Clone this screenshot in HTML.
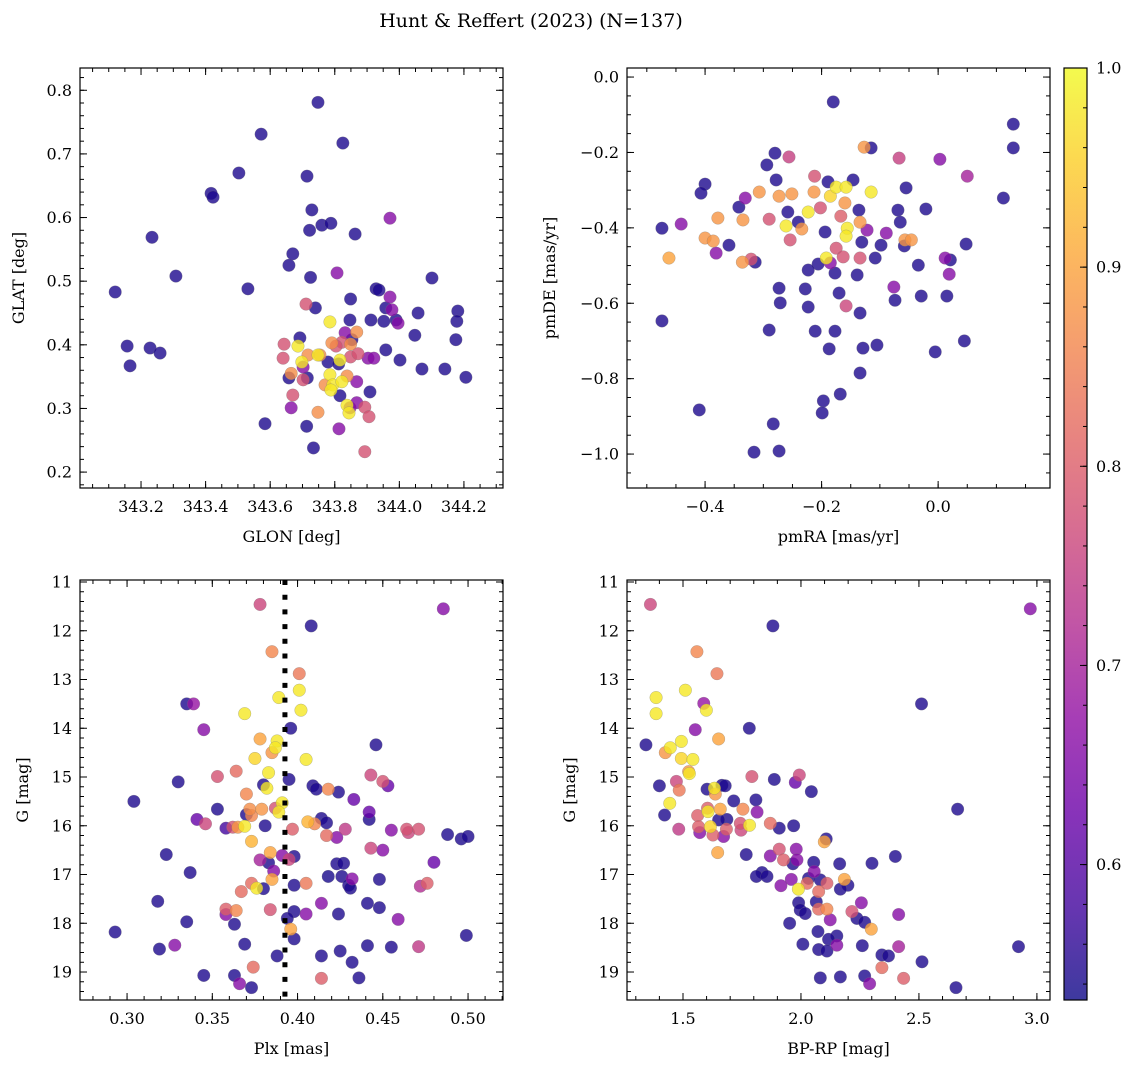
<!DOCTYPE html>
<html><head><meta charset="utf-8">
<style>
html,body{margin:0;padding:0;background:#fff;}
svg{display:block;font-family:"DejaVu Serif","Liberation Serif",serif;}
svg text{font-family:"DejaVu Serif","Liberation Serif",serif;}
</style></head>
<body>
<svg id="fig" width="1136" height="1067" viewBox="0 0 1136 1067" xmlns="http://www.w3.org/2000/svg">
<defs>
<linearGradient id="plasmaGrad" x1="0" y1="1" x2="0" y2="0"></linearGradient>
</defs>
<text x="531" y="27" font-size="19" text-anchor="middle">Hunt &amp; Reffert (2023) (N=137)</text>
</svg>
<script>
// ---- data ----
const tlGlon=[343.12,343.157,343.166,343.228,343.259,343.234,343.308,343.417,343.423,343.503,343.531,343.572,343.584,343.714,343.748,343.825,343.729,343.76,343.788,343.722,343.67,343.658,343.725,343.74,343.863,343.971,343.971,343.928,343.937,343.849,343.958,344.058,344.101,344.181,344.178,344.175,344.206,344.141,344.07,344.002,344.048,343.99,343.952,343.912,343.847,343.853,343.909,343.958,343.692,343.658,343.715,343.713,343.734,343.816,343.779,343.812,
343.807,343.702,343.665,343.813,343.847,343.868,343.832,343.903,343.921,343.996,343.977,343.868,
343.893,343.893,343.906,343.711,343.64,343.643,343.67,343.702,343.822,343.849,343.804,343.872,
343.665,343.754,343.77,343.748,343.791,343.868,343.838,343.717,343.849,
343.785,343.686,343.748,343.698,343.785,343.794,343.822,343.838,343.844,343.788,343.816];
const tlGlat=[0.483,0.398,0.367,0.395,0.387,0.569,0.508,0.638,0.632,0.670,0.488,0.731,0.276,0.665,0.781,0.717,0.612,0.588,0.591,0.580,0.543,0.525,0.506,0.458,0.574,0.599,0.475,0.488,0.486,0.472,0.458,0.450,0.505,0.453,0.437,0.408,0.349,0.362,0.362,0.376,0.415,0.439,0.437,0.439,0.439,0.408,0.326,0.392,0.411,0.348,0.348,0.272,0.238,0.320,0.373,0.370,
0.513,0.365,0.301,0.268,0.301,0.309,0.419,0.379,0.379,0.434,0.455,0.342,
0.302,0.232,0.287,0.464,0.379,0.401,0.321,0.345,0.404,0.381,0.398,0.386,
0.355,0.384,0.337,0.294,0.403,0.420,0.351,0.384,0.401,
0.436,0.398,0.384,0.373,0.353,0.337,0.342,0.305,0.293,0.329,0.376];
const tlProb=[0.545,0.545,0.545,0.545,0.545,0.545,0.545,0.545,0.545,0.545,0.545,0.545,0.545,0.545,0.545,0.545,0.545,0.545,0.545,0.545,0.545,0.545,0.545,0.545,0.545,0.66,0.66,0.545,0.545,0.545,0.545,0.545,0.545,0.545,0.545,0.545,0.545,0.545,0.545,0.545,0.545,0.545,0.545,0.545,0.545,0.545,0.545,0.545,0.545,0.545,0.545,0.545,0.545,0.545,0.545,0.545,
0.66,0.66,0.66,0.66,0.66,0.66,0.66,0.66,0.66,0.66,0.66,0.66,
0.78,0.78,0.78,0.78,0.78,0.78,0.78,0.78,0.78,0.78,0.78,0.78,
0.87,0.87,0.87,0.87,0.87,0.87,0.87,0.87,0.87,
0.98,0.98,0.98,0.98,0.98,0.98,0.98,0.98,0.98,0.98,0.98];

const trPmra=[-0.180,0.129,0.129,0.112,0.050,0.003,-0.067,-0.127,-0.115,-0.256,-0.280,-0.294,-0.278,-0.146,-0.055,-0.40,-0.407,-0.441,-0.474,-0.474,-0.462,-0.4,-0.386,-0.378,-0.381,-0.359,-0.336,-0.321,-0.314,-0.335,-0.342,-0.331,-0.307,-0.290,-0.273,-0.251,-0.258,-0.240,-0.261,-0.254,-0.234,-0.223,-0.202,-0.213,-0.212,-0.189,-0.175,-0.158,-0.185,-0.160,-0.167,-0.156,-0.158,-0.175,-0.194,-0.192,-0.185,-0.206,-0.163,-0.134,-0.134,-0.136,-0.131,-0.122,-0.108,-0.115,-0.098,-0.089,-0.069,-0.065,-0.057,-0.046,-0.058,-0.021,-0.034,0.012,0.021,0.019,0.048,-0.076,-0.074,-0.029,0.015,0.045,-0.005,-0.105,-0.129,-0.134,-0.158,-0.170,-0.177,-0.139,-0.187,-0.177,-0.211,-0.228,-0.223,-0.271,-0.273,-0.290,-0.283,-0.273,-0.316,-0.41,-0.197,-0.199,-0.168,-0.134,-0.223];
const trPmde=[-0.066,-0.125,-0.188,-0.321,-0.263,-0.218,-0.215,-0.186,-0.188,-0.212,-0.202,-0.233,-0.273,-0.273,-0.294,-0.284,-0.308,-0.390,-0.401,-0.647,-0.480,-0.427,-0.435,-0.374,-0.467,-0.446,-0.491,-0.483,-0.491,-0.379,-0.345,-0.321,-0.305,-0.377,-0.316,-0.310,-0.358,-0.385,-0.395,-0.432,-0.403,-0.358,-0.347,-0.305,-0.263,-0.278,-0.292,-0.292,-0.316,-0.334,-0.369,-0.401,-0.422,-0.454,-0.411,-0.480,-0.493,-0.496,-0.477,-0.480,-0.385,-0.353,-0.438,-0.406,-0.480,-0.305,-0.446,-0.414,-0.353,-0.385,-0.432,-0.432,-0.448,-0.350,-0.499,-0.480,-0.485,-0.523,-0.443,-0.557,-0.592,-0.581,-0.581,-0.700,-0.729,-0.711,-0.719,-0.626,-0.607,-0.573,-0.520,-0.525,-0.721,-0.674,-0.674,-0.562,-0.610,-0.599,-0.560,-0.671,-0.920,-0.992,-0.995,-0.883,-0.859,-0.891,-0.841,-0.785,-0.512];
const trProb=[0.545,0.545,0.545,0.545,0.70,0.66,0.75,0.88,0.545,0.75,0.545,0.545,0.545,0.545,0.545,0.545,0.545,0.66,0.545,0.545,0.90,0.88,0.88,0.88,0.66,0.545,0.88,0.78,0.545,0.88,0.545,0.66,0.88,0.78,0.88,0.88,0.545,0.545,0.98,0.78,0.88,0.98,0.78,0.88,0.78,0.545,0.98,0.98,0.96,0.88,0.80,0.98,0.98,0.78,0.545,0.98,0.66,0.545,0.78,0.78,0.88,0.545,0.545,0.66,0.545,0.98,0.545,0.66,0.545,0.545,0.88,0.88,0.545,0.545,0.545,0.66,0.545,0.66,0.545,0.66,0.545,0.545,0.545,0.545,0.545,0.545,0.545,0.545,0.76,0.545,0.545,0.545,0.545,0.545,0.545,0.545,0.545,0.545,0.545,0.545,0.545,0.545,0.545,0.545,0.545,0.545,0.545,0.545,0.545];

const blPlx=[0.378,0.4855,0.408,0.385,0.401,0.401,0.389,0.402,0.335,0.339,0.369,0.345,0.396,0.378,0.388,0.387,0.385,0.375,0.405,0.446,0.383,0.353,0.364,0.443,0.450,0.453,0.330,0.395,0.380,0.382,0.409,0.411,0.370,0.418,0.424,0.433,0.304,0.353,0.372,0.379,0.387,0.391,0.389,0.373,0.370,0.442,0.442,0.414,0.417,0.406,0.410,0.341,0.346,0.358,0.362,0.365,0.369,0.381,0.397,0.428,0.455,0.464,0.465,0.471,0.488,0.496,0.500,0.417,0.423,0.373,0.323,0.384,0.378,0.383,0.391,0.395,0.398,0.443,0.450,0.480,0.423,0.427,0.386,0.337,0.418,0.426,0.432,0.448,0.385,0.373,0.376,0.380,0.398,0.405,0.430,0.431,0.472,0.476,0.367,0.318,0.441,0.448,0.414,0.358,0.364,0.358,0.384,0.398,0.405,0.424,0.459,0.335,0.363,0.394,0.396,0.398,0.293,0.499,0.319,0.328,0.369,0.388,0.414,0.425,0.441,0.455,0.471,0.432,0.374,0.345,0.363,0.366,0.373,0.414,0.436];
const blG=[11.46,11.55,11.90,12.43,12.88,13.22,13.37,13.63,13.50,13.50,13.70,14.03,14.00,14.22,14.26,14.40,14.50,14.62,14.64,14.34,14.91,14.99,14.88,14.96,15.09,15.18,15.10,15.05,15.16,15.23,15.18,15.25,15.35,15.25,15.31,15.46,15.50,15.66,15.66,15.66,15.64,15.53,15.72,15.79,15.77,15.72,15.87,15.85,15.94,15.92,15.96,15.87,15.96,16.05,16.03,16.03,16.01,16.00,16.07,16.07,16.09,16.07,16.14,16.07,16.18,16.27,16.22,16.20,16.24,16.32,16.59,16.55,16.70,16.76,16.61,16.69,16.63,16.46,16.50,16.75,16.78,16.77,16.93,16.96,17.04,17.04,17.09,17.10,17.10,17.18,17.28,17.29,17.22,17.18,17.22,17.28,17.24,17.18,17.35,17.55,17.59,17.68,17.59,17.71,17.74,17.82,17.72,17.76,17.81,17.81,17.92,17.97,18.02,17.90,18.12,18.32,18.18,18.25,18.53,18.45,18.43,18.67,18.67,18.57,18.46,18.49,18.48,18.80,18.90,19.07,19.07,19.24,19.32,19.13,19.12];
const blProb=[0.76,0.66,0.545,0.86,0.84,0.98,0.98,0.98,0.545,0.68,0.98,0.66,0.545,0.90,0.98,0.98,0.88,0.96,0.98,0.545,0.98,0.78,0.82,0.76,0.78,0.62,0.545,0.545,0.545,0.98,0.545,0.545,0.86,0.86,0.545,0.62,0.545,0.545,0.87,0.88,0.78,0.98,0.98,0.86,0.545,0.62,0.545,0.545,0.545,0.92,0.86,0.62,0.76,0.58,0.78,0.88,0.98,0.545,0.80,0.74,0.66,0.78,0.76,0.78,0.545,0.545,0.545,0.82,0.66,0.92,0.545,0.90,0.70,0.545,0.66,0.76,0.545,0.76,0.66,0.62,0.545,0.545,0.66,0.545,0.54,0.545,0.66,0.545,0.90,0.82,0.98,0.545,0.545,0.84,0.545,0.545,0.72,0.80,0.82,0.545,0.545,0.545,0.66,0.80,0.86,0.66,0.78,0.545,0.66,0.545,0.66,0.545,0.545,0.545,0.90,0.545,0.545,0.545,0.545,0.66,0.545,0.545,0.545,0.545,0.545,0.545,0.74,0.545,0.82,0.545,0.545,0.66,0.545,0.80,0.545];

const brBprp=[1.362,2.972,1.881,1.559,1.644,1.510,1.386,1.386,1.588,1.599,2.511,1.552,1.781,1.651,1.343,1.493,1.446,1.425,1.493,1.542,1.524,1.527,1.792,1.993,1.976,1.887,2.044,1.472,1.400,1.484,1.602,1.665,1.679,1.633,1.637,2.664,1.444,1.715,1.809,1.814,1.754,1.422,1.604,1.658,1.606,1.562,1.686,1.651,1.743,1.782,1.870,1.908,1.969,1.482,1.566,1.571,1.616,1.627,1.672,1.684,1.746,2.107,2.099,1.647,1.768,1.870,1.908,1.926,1.980,1.983,1.966,2.054,2.164,2.301,2.400,1.835,1.811,1.856,1.959,2.056,2.032,2.082,2.026,2.110,2.184,2.199,2.167,1.915,1.989,2.075,1.990,2.065,1.997,2.018,2.075,2.110,2.124,2.216,2.237,2.256,2.270,2.298,2.414,1.952,2.072,2.152,2.117,2.152,2.008,2.075,2.110,2.260,2.343,2.371,2.414,2.513,2.343,2.922,2.082,2.167,2.270,2.291,2.435,2.657];
const brG=[11.46,11.55,11.90,12.43,12.88,13.22,13.37,13.70,13.49,13.63,13.50,14.03,14.00,14.22,14.34,14.27,14.40,14.50,14.62,14.64,14.89,14.93,14.99,14.96,15.11,15.05,15.30,15.09,15.18,15.27,15.25,15.17,15.18,15.23,15.35,15.66,15.54,15.49,15.47,15.72,15.66,15.78,15.64,15.66,15.71,15.79,15.87,15.88,15.95,15.99,15.95,16.05,16.00,16.07,16.02,16.14,16.02,16.19,16.22,16.07,16.09,16.27,16.33,16.55,16.59,16.62,16.48,16.70,16.48,16.70,16.78,16.75,16.78,16.77,16.63,16.96,17.04,17.04,17.10,16.94,17.08,17.11,17.18,17.18,17.10,17.22,17.30,17.23,17.30,17.35,17.58,17.56,17.73,17.80,17.71,17.71,17.93,17.76,17.90,17.58,17.98,18.12,17.82,18.00,18.17,18.26,18.33,18.45,18.43,18.54,18.57,18.46,18.65,18.67,18.48,18.79,18.91,18.48,19.12,19.10,19.08,19.24,19.13,19.32];
const brProb=[0.76,0.66,0.545,0.86,0.84,0.98,0.98,0.98,0.68,0.98,0.545,0.66,0.545,0.90,0.545,0.98,0.98,0.88,0.96,0.98,0.88,0.98,0.78,0.76,0.62,0.545,0.545,0.76,0.545,0.84,0.545,0.545,0.545,0.98,0.88,0.545,0.98,0.545,0.545,0.66,0.86,0.545,0.80,0.90,0.98,0.80,0.545,0.545,0.78,0.98,0.82,0.545,0.545,0.74,0.80,0.66,0.96,0.80,0.66,0.80,0.76,0.545,0.90,0.90,0.545,0.66,0.78,0.80,0.66,0.66,0.545,0.545,0.545,0.545,0.545,0.545,0.545,0.545,0.66,0.66,0.545,0.545,0.82,0.80,0.90,0.545,0.545,0.66,0.98,0.82,0.545,0.545,0.545,0.545,0.82,0.86,0.66,0.78,0.545,0.66,0.545,0.90,0.66,0.545,0.545,0.545,0.545,0.66,0.545,0.545,0.545,0.545,0.545,0.545,0.70,0.545,0.82,0.545,0.545,0.545,0.545,0.66,0.80,0.545];

const tlXTicks=[343.2,343.4,343.6,343.8,344.0,344.2];
const tlYTicks=[0.2,0.3,0.4,0.5,0.6,0.7,0.8];
const trXTicks=[-0.4,-0.2,0.0];
const trYTicks=[0.0,-0.2,-0.4,-0.6,-0.8,-1.0];
const gTicks=[11,12,13,14,15,16,17,18,19];
const blXTicks=[0.30,0.35,0.40,0.45,0.50];
const brXTicks=[1.5,2.0,2.5,3.0];
const cbTicks=[0.6,0.7,0.8,0.9,1.0];
const plxLine=[0.3926];

// ---- drawing ----
const NS='http://www.w3.org/2000/svg';
const svg=document.getElementById('fig');
const stops=[[0,'#0d0887'],[0.1,'#41049d'],[0.2,'#6a00a8'],[0.3,'#8f0da4'],[0.4,'#b12a90'],[0.5,'#cc4778'],[0.6,'#e16462'],[0.7,'#f2844b'],[0.8,'#fca636'],[0.9,'#fcce25'],[1,'#f0f921']];
const PMIN=0.532,PMAX=1.0;
function hex(h){return [parseInt(h.slice(1,3),16),parseInt(h.slice(3,5),16),parseInt(h.slice(5,7),16)];}
function plasma(p){let t=(p-PMIN)/(PMAX-PMIN);t=Math.max(0,Math.min(1,t));
 for(let i=0;i<stops.length-1;i++){if(t<=stops[i+1][0]){const a=hex(stops[i][1]),b=hex(stops[i+1][1]);const f=(t-stops[i][0])/(stops[i+1][0]-stops[i][0]);
 return 'rgb('+a.map((v,k)=>Math.round(v+(b[k]-v)*f)).join(',')+')';}}return stops[10][1];}
const grad=document.getElementById('plasmaGrad');
stops.forEach(s=>{const st=document.createElementNS(NS,'stop');st.setAttribute('offset',s[0]);st.setAttribute('stop-color',s[1]);grad.appendChild(st);});
function el(tag,attrs,parent){const e=document.createElementNS(NS,tag);for(const k in attrs)e.setAttribute(k,attrs[k]);(parent||svg).appendChild(e);return e;}
function fmt(v,d){return (v<0?'\u2212':'')+Math.abs(v).toFixed(d);}

function panel(o){
 const g=el('g',{});
 
 
 const sx=v=>o.x0+(v-o.xmin)/(o.xmax-o.xmin)*(o.x1-o.x0);
 const sy=o.yinv?(v=>o.y0+(v-o.ymin)/(o.ymax-o.ymin)*(o.y1-o.y0)):(v=>o.y1-(v-o.ymin)/(o.ymax-o.ymin)*(o.y1-o.y0));
 const idx=o.xs.map((_,i)=>i).sort((a,b)=>o.ps[a]-o.ps[b]);
 const pg=el('g',{},g);
 idx.forEach(i=>{const c=el('circle',{cx:sx(o.xs[i]),cy:sy(o.ys[i]),r:6.3,fill:plasma(o.ps[i]),'fill-opacity':0.8,stroke:'#777','stroke-opacity':0.5,'stroke-width':0.5},pg);
  
  });
 if(o.vline){o.vline.forEach(v=>{const l=el('line',{x1:sx(v),x2:sx(v),y1:o.y0,y2:o.y1,stroke:'#000','stroke-width':5,'stroke-dasharray':'5,9.7'},g);
  
  });}
 const fr=el('rect',{x:o.x0,y:o.y0,width:o.x1-o.x0,height:o.y1-o.y0,fill:'none',stroke:'#000','stroke-width':1.2},g);
 
 
 const tk=el('g',{stroke:'#000','stroke-width':1},g);
 for(let v=Math.ceil(o.xmin/o.xminor)*o.xminor;v<=o.xmax;v+=o.xminor){const X=sx(v);el('line',{x1:X,x2:X,y1:o.y1,y2:o.y1-4},tk);el('line',{x1:X,x2:X,y1:o.y0,y2:o.y0+4},tk);}
 for(let v=Math.ceil(o.ymin/o.yminor)*o.yminor;v<=o.ymax;v+=o.yminor){const Y=sy(v);el('line',{x1:o.x0,x2:o.x0+4,y1:Y,y2:Y},tk);el('line',{x1:o.x1,x2:o.x1-4,y1:Y,y2:Y},tk);}
 o.xt.forEach(v=>{const X=sx(v);el('line',{x1:X,x2:X,y1:o.y1,y2:o.y1-7},tk);el('line',{x1:X,x2:X,y1:o.y0,y2:o.y0+7},tk);
  const t=el('text',{x:X,y:o.y1+24,'font-size':16,'text-anchor':'middle'},g);t.textContent=fmt(v,o.xd);
  
  });
 o.yt.forEach(v=>{const Y=sy(v);el('line',{x1:o.x0,x2:o.x0+7,y1:Y,y2:Y},tk);el('line',{x1:o.x1,x2:o.x1-7,y1:Y,y2:Y},tk);
  const t=el('text',{x:o.x0-8,y:Y+5.5,'font-size':16,'text-anchor':'end'},g);t.textContent=fmt(v,o.yd);
  
  });
 const xl=el('text',{x:(o.x0+o.x1)/2,y:o.y1+54,'font-size':16,'text-anchor':'middle'},g);xl.textContent=o.xlabel;
 
 
 const yx=o.x0-o.ylo,yy=(o.y0+o.y1)/2;
 const yl=el('text',{x:yx,y:yy,'font-size':16,'text-anchor':'middle',transform:'rotate(-90 '+yx+' '+yy+')'},g);yl.textContent=o.ylabel;
 
 
}
panel({name:'glon-glat-panel',x0:80,x1:503,y0:68,y1:488,xmin:343.011,xmax:344.321,ymin:0.175,ymax:0.835,xs:tlGlon,ys:tlGlat,ps:tlProb,xt:tlXTicks,yt:tlYTicks,xd:1,yd:1,xminor:0.05,yminor:0.02,xlabel:'GLON [deg]',ylabel:'GLAT [deg]',ylo:56});
panel({name:'proper-motion-panel',x0:627,x1:1050,y0:68,y1:488,xmin:-0.534,xmax:0.192,ymin:-1.09,ymax:0.024,xs:trPmra,ys:trPmde,ps:trProb,xt:trXTicks,yt:trYTicks,xd:1,yd:1,xminor:0.05,yminor:0.05,xlabel:'pmRA [mas/yr]',ylabel:'pmDE [mas/yr]',ylo:72});
panel({name:'plx-g-panel',x0:80,x1:503,y0:580,y1:1000,xmin:0.2724,xmax:0.5205,ymin:10.959,ymax:19.574,yinv:true,xs:blPlx,ys:blG,ps:blProb,xt:blXTicks,yt:gTicks,xd:2,yd:0,xminor:0.01,yminor:0.2,xlabel:'Plx [mas]',ylabel:'G [mag]',ylo:52,vline:plxLine});
panel({name:'cmd-panel',x0:627,x1:1050,y0:580,y1:1000,xmin:1.2627,xmax:3.0555,ymin:10.959,ymax:19.574,yinv:true,xs:brBprp,ys:brG,ps:brProb,xt:brXTicks,yt:gTicks,xd:1,yd:0,xminor:0.1,yminor:0.2,xlabel:'BP-RP [mag]',ylabel:'G [mag]',ylo:52});

// colorbar
const cb=el('g',{});


const CX0=1064,CX1=1087,CY0=68,CY1=1000;
const cy=v=>CY1-(v-PMIN)/(PMAX-PMIN)*(CY1-CY0);
el('rect',{x:CX0,y:CY0,width:CX1-CX0,height:CY1-CY0,fill:'url(#plasmaGrad)','fill-opacity':0.8},cb);
el('rect',{x:CX0,y:CY0,width:CX1-CX0,height:CY1-CY0,fill:'none',stroke:'#000','stroke-width':1.2},cb);
for(let v=0.54;v<=1.0001;v+=0.02){const Y=cy(v);el('line',{x1:CX1,x2:CX1-4,y1:Y,y2:Y,stroke:'#000'},cb);}
cbTicks.forEach(v=>{const Y=cy(v);el('line',{x1:CX1,x2:CX1-7,y1:Y,y2:Y,stroke:'#000'},cb);
 const t=el('text',{x:CX1+9,y:Y+5.5,'font-size':16},cb);t.textContent=v.toFixed(1);
 
 });
</script>
</body></html>
